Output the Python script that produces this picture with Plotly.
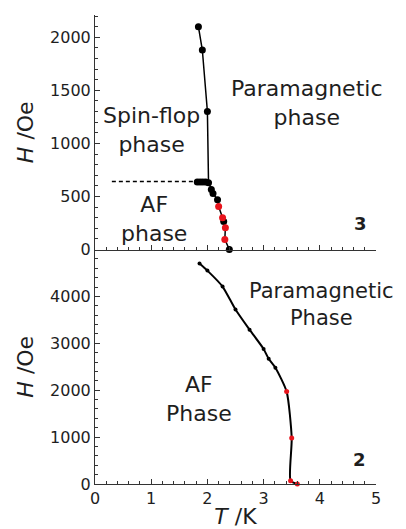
import plotly.graph_objects as go
from plotly.subplots import make_subplots

# ---- Data: compound 3 (top panel) ----
t3_line = [1.84, 1.91, 2.00, 2.02, 2.07, 2.10, 2.18, 2.20, 2.27, 2.29, 2.32, 2.31, 2.39]
h3_line = [2100, 1880, 1300, 635, 565, 527, 470, 405, 300, 265, 205, 95, 0]
t3_black = [1.84, 1.91, 2.00, 1.82, 1.87, 1.92, 1.97, 2.02, 2.07, 2.10, 2.18, 2.29, 2.39]
h3_black = [2100, 1880, 1300, 635, 635, 635, 635, 630, 565, 527, 470, 265, 0]
t3_red = [2.20, 2.27, 2.32, 2.31]
h3_red = [405, 300, 205, 95]
t3_dash = [0.30, 1.82]
h3_dash = [640, 640]

# ---- Data: compound 2 (bottom panel) ----
t2_line = [1.86, 2.00, 2.27, 2.50, 2.75, 3.00, 3.09, 3.21, 3.41, 3.50, 3.48, 3.60]
h2_line = [4700, 4550, 4210, 3720, 3290, 2880, 2670, 2480, 1970, 980, 70, 0]
t2_black = [1.86, 2.00, 2.27, 2.50, 2.75, 3.00, 3.09, 3.21]
h2_black = [4700, 4550, 4210, 3720, 3290, 2880, 2670, 2480]
t2_red = [3.41, 3.50, 3.48, 3.60]
h2_red = [1970, 980, 70, 0]

x_ticks = [0, 1, 2, 3, 4, 5]
y3_ticks = [0, 500, 1000, 1500, 2000]
y2_ticks = [0, 1000, 2000, 3000, 4000]

FONT = "DejaVu Sans, sans-serif"
TXT = "#1e1e1e"

fig = make_subplots(rows=2, cols=1, vertical_spacing=0)

# top panel
fig.add_trace(go.Scatter(x=t3_dash, y=h3_dash, mode="lines",
                         line=dict(color="black", width=1.5, dash="4px,3px"),
                         showlegend=False), row=1, col=1)
fig.add_trace(go.Scatter(x=t3_line, y=h3_line, mode="lines",
                         line=dict(color="black", width=1.5),
                         showlegend=False), row=1, col=1)
fig.add_trace(go.Scatter(x=t3_black, y=h3_black, mode="markers",
                         marker=dict(color="black", size=7),
                         showlegend=False, cliponaxis=False), row=1, col=1)
fig.add_trace(go.Scatter(x=t3_red, y=h3_red, mode="markers",
                         marker=dict(color="#e8141c", size=7),
                         showlegend=False, cliponaxis=False), row=1, col=1)

# bottom panel
fig.add_trace(go.Scatter(x=t2_line, y=h2_line, mode="lines",
                         line=dict(color="black", width=2, shape="spline", smoothing=0.6),
                         showlegend=False, cliponaxis=False), row=2, col=1)
fig.add_trace(go.Scatter(x=t2_black, y=h2_black, mode="markers",
                         marker=dict(color="black", size=4),
                         showlegend=False, cliponaxis=False), row=2, col=1)
fig.add_trace(go.Scatter(x=t2_red, y=h2_red, mode="markers",
                         marker=dict(color="#e8141c", size=5),
                         showlegend=False, cliponaxis=False), row=2, col=1)

axis_common = dict(showline=True, linecolor="#333", linewidth=1, showgrid=False,
                   zeroline=False, ticks="inside", tickcolor="#333", ticklen=5,
                   automargin=False,
                   tickfont=dict(family=FONT, size=16, color=TXT))

fig.update_xaxes(range=[0, 5], tickvals=x_ticks, showticklabels=False,
                 minor=dict(dtick=0.2, ticks="inside", ticklen=3, tickcolor="#333"),
                 **axis_common, row=1, col=1)
fig.update_xaxes(range=[0, 5], tickvals=x_ticks, showticklabels=True,
                 minor=dict(dtick=0.2, ticks="inside", ticklen=3, tickcolor="#333"),
                 title=dict(text="<i>T</i> /K", font=dict(family=FONT, size=22, color=TXT),
                            standoff=2),
                 **axis_common, row=2, col=1)
fig.update_yaxes(range=[0, 2210], tickvals=y3_ticks,
                 minor=dict(dtick=100, ticks="inside", ticklen=3, tickcolor="#333"),
                 title=dict(text="<i>H</i> /Oe", font=dict(family=FONT, size=22, color=TXT),
                            standoff=10),
                 **axis_common, row=1, col=1)
fig.update_yaxes(range=[0, 5000], tickvals=y2_ticks,
                 minor=dict(dtick=200, ticks="inside", ticklen=3, tickcolor="#333"),
                 title=dict(text="<i>H</i> /Oe", font=dict(family=FONT, size=22, color=TXT),
                            standoff=10),
                 **axis_common, row=2, col=1)

fig.update_layout(yaxis=dict(domain=[0.5, 1.0]), yaxis2=dict(domain=[0.0, 0.5]))

def txt(x, y, s, xref, yref, size=22, bold=False, xanchor="center"):
    fig.add_annotation(x=x, y=y, xref=xref, yref=yref, text=("<b>%s</b>" % s) if bold else s,
                       showarrow=False, font=dict(family=FONT, size=size, color=TXT),
                       xanchor=xanchor, yanchor="middle", align="center")

# top panel labels
txt(1.01, 1129, "Spin-flop<br>phase", "x", "y")
txt(3.77, 1383, "Paramagnetic<br>phase", "x", "y")
txt(1.05, 287, "AF<br>phase", "x", "y")
txt(4.73, 245, "3", "x", "y", size=18, bold=True)

# bottom panel labels (right edge placed in paper units, beyond the axis end)
txt(1.071, 3818, "Paramagnetic<br>Phase", "paper", "y2", size=21, xanchor="right")
txt(1.85, 1807, "AF<br>Phase", "x2", "y2")
txt(4.70, 513, "2", "x2", "y2", size=18, bold=True)

# page body adds an 8px offset, so the figure is shrunk by that amount
fig.update_layout(width=398, height=521, margin=dict(l=87, r=30, t=7, b=45),
                  plot_bgcolor="white", paper_bgcolor="white",
                  font=dict(family=FONT, color=TXT))

fig.write_html("out.html")
